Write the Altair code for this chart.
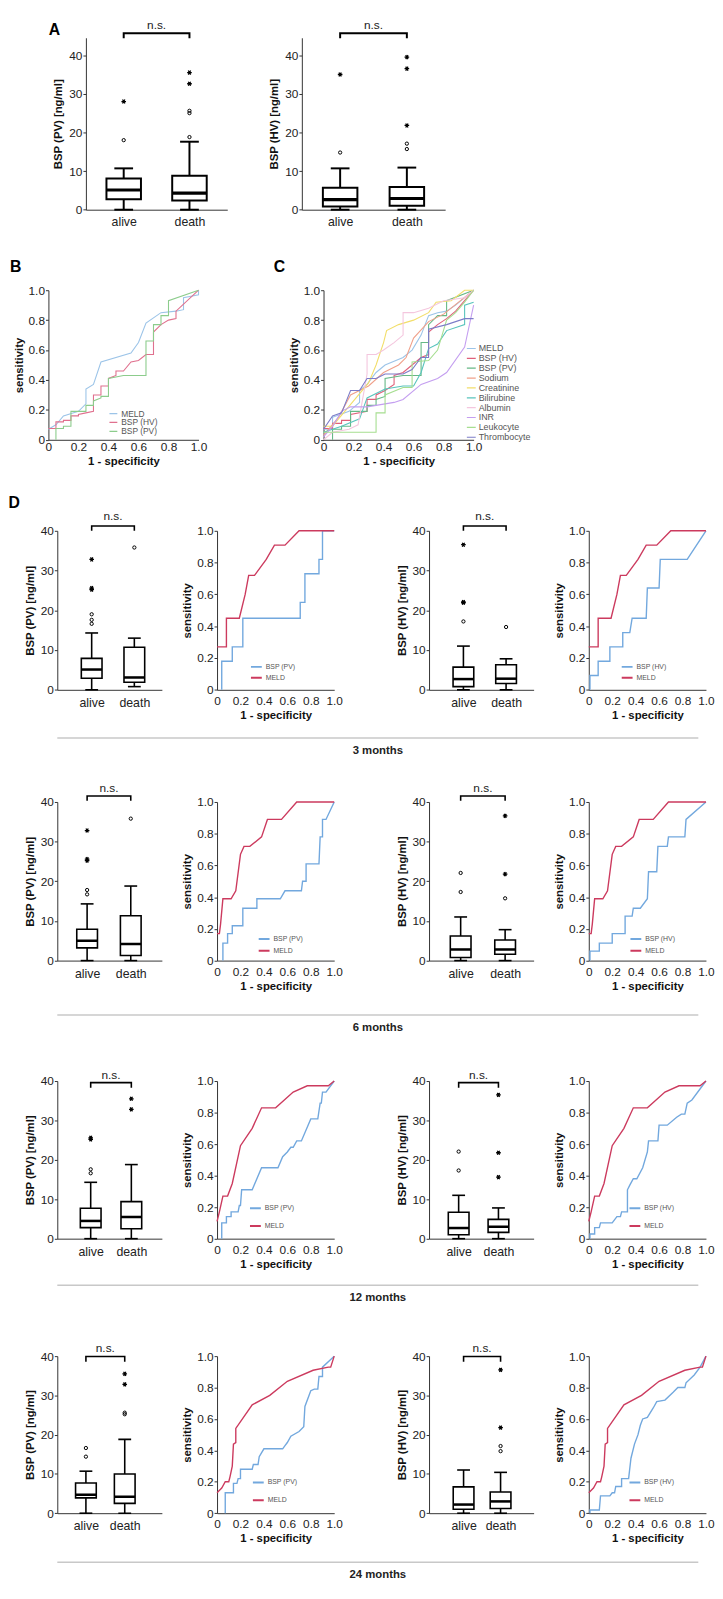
import altair as alt
import pandas as pd

FONT = "Liberation Sans"
SX = 0.982
SY = 0.985

groups = ["alive", "death"]
y_ticks = [0, 10, 20, 30, 40]
roc_ticks = [0, 0.2, 0.4, 0.6, 0.8, 1.0]
periods = ["3 months", "6 months", "12 months", "24 months"]
letters = ["A", "B", "C", "D"]

# ---------------- box statistics [min, q1, median, q3, max] ----------------
A_pv_stats = [[0, 2.7, 5.1, 8.1, 10.7], [0, 2.4, 4.3, 8.8, 17.6]]
A_pv_circ = [[18.0], [18.8, 25.0, 25.6]]
A_pv_star = [[28.0], [32.6, 35.5]]
A_hv_stats = [[0, 0.8, 2.6, 5.7, 10.7], [0, 1.0, 2.9, 5.9, 10.9]]
A_hv_circ = [[14.8], [15.7, 17.1]]
A_hv_star = [[35.0], [21.8, 36.5, 39.5]]

D_pv_stats = [
    [[0, 2.9, 5.1, 7.9, 14.3], [0.8, 1.9, 3.1, 10.7, 13.0]],
    [[0, 3.2, 5.0, 7.9, 14.3], [0, 1.3, 4.2, 11.3, 18.8]],
    [[0, 2.8, 4.5, 7.7, 14.3], [0, 2.5, 5.5, 9.4, 18.8]],
    [[0, 3.9, 4.7, 7.7, 10.7], [0, 2.5, 4.2, 10.0, 18.8]],
]
D_pv_circ = [
    [[16.6, 17.6, 19.0], [35.8]],
    [[16.7, 17.8], [35.8]],
    [[16.6, 17.6], []],
    [[14.4, 16.6], [25.2, 25.6]],
]
D_pv_star = [
    [[25.2, 25.6, 32.8], []],
    [[25.2, 25.6, 32.8], []],
    [[25.2, 25.6], [32.8, 35.5]],
    [[], [32.8, 35.5]],
]
D_hv_stats = [
    [[0, 0.8, 2.7, 5.7, 11.0], [0, 1.6, 2.8, 6.3, 7.8]],
    [[0, 0.8, 2.8, 6.2, 11.0], [0, 1.6, 2.8, 5.2, 7.8]],
    [[0, 1.0, 2.7, 6.7, 11.0], [0, 1.6, 3.0, 4.9, 7.8]],
    [[0, 1.0, 2.2, 6.7, 11.0], [0, 1.2, 3.0, 5.4, 10.4]],
]
D_hv_circ = [
    [[17.2], [15.8]],
    [[17.3, 22.1], [15.7]],
    [[17.3, 22.1], []],
    [[], [15.8, 17.1]],
]
D_hv_star = [
    [[21.9, 22.1, 36.5], []],
    [[], [21.8, 36.5]],
    [[], [15.6, 21.8, 36.5]],
    [[], [21.8, 36.5]],
]

# ---------------- ROC curves: panel B ----------------
B_names = ["MELD", "BSP (HV)", "BSP (PV)"]
B_colors = ["#9cc4e8", "#e0708e", "#8ccc8c"]
B_meld_x = [0, 0.05, 0.1, 0.2, 0.25, 0.25, 0.3, 0.35, 0.55, 0.6, 0.65, 0.75, 0.85, 0.9, 0.9, 1.0, 1.0]
B_meld_y = [0.07, 0.1, 0.16, 0.19, 0.24, 0.34, 0.37, 0.52, 0.58, 0.65, 0.78, 0.85, 0.86, 0.87, 0.95, 0.97, 1.0]
B_hv_x = [0, 0.05, 0.05, 0.1, 0.1, 0.15, 0.15, 0.2, 0.2, 0.25, 0.3, 0.3, 0.35, 0.35, 0.4, 0.4, 0.45, 0.45, 0.5,
          0.55, 0.6, 0.65, 0.7, 0.7, 0.75, 0.8, 0.85, 0.85, 1.0]
B_hv_y = [0.075, 0.075, 0.12, 0.12, 0.13, 0.13, 0.16, 0.16, 0.17, 0.18, 0.19, 0.3, 0.3, 0.36, 0.36, 0.41, 0.43,
          0.46, 0.46, 0.52, 0.53, 0.57, 0.57, 0.72, 0.77, 0.8, 0.81, 0.86, 1.0]
B_pv_x = [0.05, 0.05, 0.1, 0.1, 0.15, 0.15, 0.25, 0.25, 0.3, 0.3, 0.35, 0.35, 0.4, 0.4, 0.5, 0.65, 0.65, 0.7,
          0.7, 0.75, 0.75, 0.8, 0.8, 1.0]
B_pv_y = [0, 0.075, 0.075, 0.09, 0.09, 0.19, 0.19, 0.23, 0.23, 0.26, 0.28, 0.29, 0.29, 0.41, 0.43, 0.43, 0.66,
          0.66, 0.77, 0.77, 0.83, 0.83, 0.93, 1.0]

# ---------------- ROC curves: panel C ----------------
C_names = ["MELD", "BSP (HV)", "BSP (PV)", "Sodium", "Creatinine", "Bilirubine", "Albumin", "INR",
           "Leukocyte", "Thrombocyte"]
C_colors = ["#9cc4e8", "#e0607a", "#66b886", "#f0a08a", "#f2de6a", "#58c4bc", "#f4c6de", "#c49ef0",
            "#a6de90", "#7c7cc8"]
C_x = [
    [0, 0.06, 0.06, 0.17, 0.24, 0.24, 0.29, 0.35, 0.41, 0.53, 0.59, 0.65, 0.70, 0.76, 0.82, 0.88, 0.94, 1.0],
    [0, 0.06, 0.06, 0.12, 0.12, 0.18, 0.18, 0.29, 0.29, 0.35, 0.35, 0.41, 0.47, 0.47, 0.53, 0.59, 0.65, 0.70,
     0.70, 0.76, 0.82, 0.88, 1.0],
    [0.06, 0.06, 0.12, 0.12, 0.18, 0.18, 0.29, 0.29, 0.35, 0.35, 0.41, 0.41, 0.53, 0.65, 0.65, 0.70, 0.70,
     0.76, 0.82, 0.82, 1.0],
    [0, 0.1, 0.18, 0.3, 0.4, 0.5, 0.55, 0.6, 0.7, 0.8, 0.9, 1.0],
    [0, 0.06, 0.1, 0.2, 0.3, 0.35, 0.4, 0.42, 0.5, 0.6, 0.7, 0.75, 0.85, 0.94, 1.0],
    [0, 0.12, 0.24, 0.29, 0.35, 0.41, 0.53, 0.6, 0.65, 0.7, 0.76, 0.82, 0.94, 0.94, 1.0],
    [0, 0.06, 0.17, 0.23, 0.29, 0.29, 0.35, 0.4, 0.47, 0.53, 0.53, 0.6, 0.7, 0.8, 0.94, 1.0],
    [0, 0.06, 0.12, 0.18, 0.29, 0.35, 0.47, 0.53, 0.65, 0.76, 0.82, 0.94, 1.0],
    [0, 0.06, 0.35, 0.35, 0.41, 0.41, 0.53, 0.59, 0.59, 0.70, 0.76, 0.82, 0.88, 0.94, 1.0],
    [0, 0.06, 0.12, 0.18, 0.24, 0.29, 0.35, 0.41, 0.53, 0.59, 0.65, 0.70, 0.70, 0.82, 0.94, 1.0],
]
C_y = [
    [0.07, 0.07, 0.15, 0.19, 0.25, 0.33, 0.37, 0.45, 0.50, 0.55, 0.60, 0.70, 0.83, 0.85, 0.86, 0.90, 0.95, 1.0],
    [0.075, 0.075, 0.11, 0.11, 0.13, 0.13, 0.17, 0.19, 0.27, 0.27, 0.3, 0.33, 0.37, 0.43, 0.45, 0.5, 0.55, 0.57,
     0.72, 0.77, 0.81, 0.86, 1.0],
    [0, 0.07, 0.07, 0.09, 0.09, 0.19, 0.19, 0.23, 0.23, 0.27, 0.29, 0.41, 0.43, 0.43, 0.65, 0.65, 0.77, 0.83,
     0.83, 0.93, 1.0],
    [0.03, 0.15, 0.3, 0.36, 0.45, 0.5, 0.55, 0.68, 0.79, 0.84, 0.92, 1.0],
    [0.09, 0.09, 0.14, 0.26, 0.38, 0.5, 0.65, 0.73, 0.77, 0.8, 0.85, 0.92, 0.93, 1.0, 1.0],
    [0.05, 0.09, 0.14, 0.28, 0.31, 0.34, 0.36, 0.36, 0.45, 0.61, 0.64, 0.73, 0.77, 0.9, 0.92],
    [0, 0.05, 0.07, 0.1, 0.44, 0.57, 0.57, 0.6, 0.65, 0.7, 0.85, 0.85, 0.88, 0.93, 0.95, 1.0],
    [0.02, 0.09, 0.19, 0.22, 0.22, 0.23, 0.25, 0.27, 0.37, 0.41, 0.45, 0.62, 0.9],
    [0.05, 0.05, 0.05, 0.18, 0.18, 0.30, 0.35, 0.35, 0.52, 0.53, 0.6, 0.8, 0.85, 0.92, 1.0],
    [0.07, 0.16, 0.18, 0.33, 0.33, 0.41, 0.41, 0.44, 0.44, 0.47, 0.55, 0.55, 0.74, 0.77, 0.81, 0.81],
]

# ---------------- ROC curves: panel D (per period) ----------------
D_colors = ["#72a8de", "#cc3a5e"]
D_meld_x = [
    [0, 0.08, 0.08, 0.19, 0.24, 0.27, 0.32, 0.42, 0.49, 0.58, 0.70, 1.0],
    [0, 0.02, 0.03, 0.05, 0.12, 0.16, 0.20, 0.23, 0.28, 0.38, 0.43, 0.55, 0.68, 1.0],
    [0, 0.02, 0.05, 0.09, 0.13, 0.2, 0.3, 0.38, 0.5, 0.65, 0.77, 0.95, 1.0],
    [0, 0.04, 0.07, 0.1, 0.11, 0.13, 0.14, 0.16, 0.16, 0.3, 0.45, 0.6, 0.82, 0.95, 0.97, 1.0],
]
D_meld_y = [
    [0.27, 0.27, 0.45, 0.45, 0.60, 0.72, 0.72, 0.82, 0.91, 0.91, 1.0, 1.0],
    [0.17, 0.17, 0.23, 0.39, 0.39, 0.44, 0.67, 0.72, 0.72, 0.78, 0.89, 0.89, 1.0, 1.0],
    [0.11, 0.17, 0.27, 0.27, 0.35, 0.59, 0.7, 0.83, 0.83, 0.93, 0.97, 0.97, 1.0],
    [0.13, 0.16, 0.2, 0.2, 0.23, 0.3, 0.44, 0.45, 0.54, 0.69, 0.75, 0.84, 0.91, 0.93, 0.93, 1.0],
]
D_pv_x = [
    [0.04, 0.04, 0.13, 0.13, 0.22, 0.22, 0.71, 0.71, 0.75, 0.75, 0.87, 0.87, 0.9, 0.9, 1.0],
    [0.05, 0.05, 0.09, 0.09, 0.13, 0.13, 0.22, 0.22, 0.34, 0.34, 0.54, 0.58, 0.72, 0.73, 0.76, 0.76, 0.87,
     0.88, 0.90, 0.90, 0.93, 1.0],
    [0.04, 0.04, 0.08, 0.08, 0.12, 0.12, 0.18, 0.19, 0.2, 0.21, 0.3, 0.38, 0.52, 0.56, 0.6, 0.63, 0.65, 0.68,
     0.72, 0.8, 0.86, 0.88, 0.89, 0.9, 0.93, 1.0],
    [0.07, 0.07, 0.14, 0.14, 0.17, 0.18, 0.2, 0.2, 0.3, 0.31, 0.35, 0.36, 0.4, 0.56, 0.58, 0.6, 0.63, 0.7,
     0.74, 0.75, 0.8, 0.83, 0.86, 0.87, 0.9, 0.9, 1.0],
]
D_pv_y = [
    [0, 0.18, 0.18, 0.27, 0.27, 0.45, 0.45, 0.55, 0.55, 0.73, 0.73, 0.82, 0.82, 1.0, 1.0],
    [0, 0.11, 0.11, 0.17, 0.17, 0.22, 0.22, 0.33, 0.33, 0.39, 0.39, 0.44, 0.44, 0.5, 0.5, 0.61, 0.61, 0.78,
     0.78, 0.89, 0.89, 1.0],
    [0, 0.1, 0.1, 0.14, 0.14, 0.17, 0.17, 0.21, 0.21, 0.31, 0.31, 0.45, 0.45, 0.52, 0.55, 0.58, 0.58, 0.62,
     0.62, 0.76, 0.76, 0.86, 0.86, 0.93, 0.93, 1.0],
    [0, 0.13, 0.13, 0.19, 0.19, 0.22, 0.22, 0.28, 0.28, 0.31, 0.31, 0.36, 0.41, 0.41, 0.43, 0.45, 0.49, 0.52,
     0.55, 0.68, 0.78, 0.79, 0.79, 0.87, 0.87, 0.93, 1.0],
]
D_hv_x = [
    [0.01, 0.01, 0.08, 0.08, 0.18, 0.18, 0.29, 0.29, 0.35, 0.37, 0.49, 0.50, 0.60, 0.61, 0.84, 1.0],
    [0.01, 0.01, 0.09, 0.09, 0.2, 0.2, 0.31, 0.31, 0.37, 0.38, 0.44, 0.5, 0.51, 0.58, 0.59, 0.67, 0.68, 0.82,
     0.83, 1.0],
    [0.01, 0.01, 0.05, 0.05, 0.09, 0.1, 0.2, 0.24, 0.27, 0.28, 0.33, 0.33, 0.35, 0.38, 0.41, 0.46, 0.5, 0.51,
     0.59, 0.6, 0.67, 0.75, 0.79, 0.82, 0.84, 0.88, 1.0],
    [0.01, 0.01, 0.09, 0.1, 0.18, 0.2, 0.22, 0.23, 0.28, 0.28, 0.34, 0.36, 0.39, 0.42, 0.44, 0.46, 0.5, 0.55,
     0.58, 0.65, 0.72, 0.76, 0.82, 0.83, 0.9, 0.95, 1.0],
]
D_hv_y = [
    [0, 0.09, 0.09, 0.18, 0.18, 0.27, 0.27, 0.36, 0.36, 0.45, 0.45, 0.64, 0.64, 0.82, 0.82, 1.0],
    [0, 0.06, 0.06, 0.11, 0.11, 0.17, 0.17, 0.28, 0.28, 0.33, 0.33, 0.39, 0.56, 0.56, 0.72, 0.72, 0.78, 0.78,
     0.89, 1.0],
    [0, 0.03, 0.03, 0.07, 0.07, 0.1, 0.1, 0.14, 0.14, 0.17, 0.17, 0.31, 0.34, 0.38, 0.38, 0.45, 0.55, 0.62,
     0.62, 0.72, 0.72, 0.77, 0.79, 0.79, 0.86, 0.88, 1.0],
    [0, 0.02, 0.02, 0.11, 0.11, 0.13, 0.13, 0.17, 0.17, 0.22, 0.22, 0.35, 0.44, 0.5, 0.56, 0.6, 0.61, 0.67,
     0.71, 0.72, 0.77, 0.8, 0.8, 0.83, 0.88, 0.93, 1.0],
]

# ---------------- helpers ----------------
LBL = "datum.value == 0 ? '0' : format(datum.value, '.1f')"
GRP = "datum.value == 1 ? '%s' : '%s'" % (groups[0], groups[1])


def hc(*charts):
    return alt.hconcat(*charts, spacing=0, bounds="flush").resolve_scale(color="independent")


def spacer(w=1, h=1, letter=None, lx=0, ly=0):
    base = alt.Chart(pd.DataFrame({"s": [0], "t": [letter or ""]}))
    dot = base.mark_point(opacity=0, size=1).encode(x=alt.value(0), y=alt.value(0))
    if letter is None:
        return dot.properties(width=w, height=h)
    txt = base.mark_text(fontSize=16, fontWeight="bold", font=FONT, color="black", align="left",
                         baseline="alphabetic").encode(text="t:N", x=alt.value(lx), y=alt.value(ly))
    return alt.layer(dot, txt).properties(width=w, height=h)


def frame(w, h, top, bottom, letter=None, lx=0, ly=0):
    # invisible vertical rule fixing the row's extent above and below its plot areas
    base = alt.Chart(pd.DataFrame({"s": [0], "t": [letter or ""]}))
    rule = base.mark_rule(opacity=0, strokeWidth=1).encode(
        x=alt.value(0), y=alt.value(-top), y2=alt.value(h + bottom))
    if letter is None:
        return rule.properties(width=w, height=h)
    txt = base.mark_text(fontSize=16, fontWeight="bold", font=FONT, color="black", align="left",
                         baseline="alphabetic").encode(text="t:N", x=alt.value(lx), y=alt.value(ly))
    return alt.layer(rule, txt).properties(width=w, height=h)


def box_panel(stats, circ, star, ytitle, w, h, ydom, xdom, br, boxw, capw, lw, lab_pad):
    st = pd.DataFrame({"pos": [1, 2],
                       "lo": [stats[0][0], stats[1][0]], "q1": [stats[0][1], stats[1][1]],
                       "med": [stats[0][2], stats[1][2]], "q3": [stats[0][3], stats[1][3]],
                       "hi": [stats[0][4], stats[1][4]]})
    cdf = pd.DataFrame({"pos": [1] * len(circ[0]) + [2] * len(circ[1]), "val": circ[0] + circ[1]})
    sdf = pd.DataFrame({"pos": [1] * len(star[0]) + [2] * len(star[1]), "val": star[0] + star[1]})
    bdf = pd.DataFrame({"pos": [1, 1, 2, 2], "val": [br[1], br[0], br[0], br[1]], "k": [0, 1, 2, 3]})
    ndf = pd.DataFrame({"pos": [1.5], "val": [br[2]], "txt": ["n.s."]})
    xs = alt.Scale(domain=xdom, nice=False, zero=False)
    ys = alt.Scale(domain=ydom, nice=False, zero=False)
    xax = alt.Axis(values=[1, 2], labelExpr=GRP, title=None, tickSize=0, labelPadding=lab_pad,
                   labelFontSize=12.5, labelColor="#222")
    yax = alt.Axis(values=y_ticks, title=ytitle, tickSize=3, labelPadding=1, titlePadding=5,
                   labelOverlap=False)

    def X():
        return alt.X("pos:Q", scale=xs, axis=xax)

    def Y(f):
        return alt.Y(f + ":Q", scale=ys, axis=yax)

    base = alt.Chart(st)
    layers = [
        base.mark_rule(color="black", strokeWidth=lw).encode(x=X(), y=Y("lo"), y2="q1:Q"),
        base.mark_rule(color="black", strokeWidth=lw).encode(x=X(), y=Y("q3"), y2="hi:Q"),
        base.mark_tick(orient="horizontal", size=capw, thickness=lw, color="black", opacity=1)
            .encode(x=X(), y=Y("lo")),
        base.mark_tick(orient="horizontal", size=capw, thickness=lw, color="black", opacity=1)
            .encode(x=X(), y=Y("hi")),
        base.mark_bar(size=boxw, fill="white", stroke="black", strokeWidth=lw)
            .encode(x=X(), y=Y("q1"), y2="q3:Q"),
        base.mark_tick(orient="horizontal", size=boxw, thickness=lw * 1.6, color="black", opacity=1)
            .encode(x=X(), y=Y("med")),
        alt.Chart(cdf).mark_point(shape="circle", filled=False, size=11, strokeWidth=1, color="black",
                                  opacity=1).encode(x=X(), y=Y("val")),
        alt.Chart(sdf).mark_point(shape="M-1,0L1,0M-0.5,-0.87L0.5,0.87M-0.5,0.87L0.5,-0.87", filled=False,
                                  size=22, strokeWidth=1.3, color="black", opacity=1)
            .encode(x=X(), y=Y("val")),
        alt.Chart(bdf).mark_line(color="black", strokeWidth=lw).encode(x=X(), y=Y("val"), order="k:Q"),
        alt.Chart(ndf).mark_text(fontSize=12, font=FONT, color="#222", baseline="middle")
            .encode(x=X(), y=Y("val"), text="txt:N"),
    ]
    return alt.layer(*layers).properties(width=w, height=h)


def roc_panel(names, xs_list, ys_list, colors, w, h, sw, leg, xlab_pad):
    rows = []
    for name, xs, ys in zip(names, xs_list, ys_list):
        for i, (a, b) in enumerate(zip(xs, ys)):
            rows.append({"series": name, "k": i, "fpr": a, "tpr": b})
    df = pd.DataFrame(rows)
    ch = alt.Chart(df).mark_line(strokeWidth=sw).encode(
        x=alt.X("fpr:Q", scale=alt.Scale(domain=[0, 1], nice=False),
                axis=alt.Axis(values=roc_ticks, labelExpr=LBL, title="1 - specificity", tickSize=0,
                              labelPadding=xlab_pad, titlePadding=3, labelFlush=False, labelOverlap=False)),
        y=alt.Y("tpr:Q", scale=alt.Scale(domain=[0, 1], nice=False),
                axis=alt.Axis(values=roc_ticks, labelExpr=LBL, title="sensitivity", tickSize=3,
                              labelPadding=1, titlePadding=4, labelFlush=False, labelOverlap=False)),
        color=alt.Color("series:N", scale=alt.Scale(domain=names, range=colors),
                        legend=alt.Legend(title=None, orient="none", symbolType="stroke", padding=0,
                                          labelFont=FONT, labelColor="#555", **leg)),
        order="k:Q",
    )
    return ch.properties(width=w, height=h)


def sep_chart(label, w):
    df = pd.DataFrame({"label": [label]})
    rule = alt.Chart(df).mark_rule(color="#c8c8c8", strokeWidth=1.5).encode(
        x=alt.value(0), x2=alt.value(w), y=alt.value(0))
    txt = alt.Chart(df).mark_text(fontWeight="bold", fontSize=11.5, font=FONT, color="#222",
                                  baseline="middle").encode(
        text="label:N", x=alt.value(w / 2), y=alt.value(13.4 * SY))
    return alt.layer(rule, txt).properties(width=w, height=1)


rows = []

# ---------------- panels A ----------------
A_W1, A_W2, A_H = 146 * SX, 148 * SX, 177 * SY
boxA1 = box_panel(A_pv_stats, A_pv_circ, A_pv_star, "BSP (PV) [ng/ml]", A_W1, A_H, [0, 44.5], [0.5, 2.5],
                  (45.7, 44.4, 47.8), 35, 19, 2, 6)
boxA2 = box_panel(A_hv_stats, A_hv_circ, A_hv_star, "BSP (HV) [ng/ml]", A_W2, A_H, [0, 44.5], [0.5, 2.5],
                  (45.7, 44.4, 47.8), 35, 19, 2, 6)
rows.append(hc(frame(80 * SX, A_H, 19 * SY, 42 * SY, letters[0], 42 * SX, -3 * SY),
               boxA1, spacer(76 * SX), boxA2))

# ---------------- panels B, C ----------------
BC_W, BC_H = 155 * SX, 154 * SY
rocB = roc_panel(B_names, [B_meld_x, B_hv_x, B_pv_x], [B_meld_y, B_hv_y, B_pv_y], B_colors, BC_W, BC_H, 1.1,
                 dict(legendX=62 * SX, legendY=127 * SY - 4.25, symbolSize=64, symbolStrokeWidth=1.2,
                      labelFontSize=8.5, rowPadding=0, clipHeight=8.5, labelOffset=3), 2)
rocC = roc_panel(C_names, C_x, C_y, C_colors, BC_W, BC_H, 1.1,
                 dict(legendX=147 * SX, legendY=60 * SY - 4.6, symbolSize=81, symbolStrokeWidth=1.2,
                      labelFontSize=9, rowPadding=0, clipHeight=9.2, labelOffset=2), 2)
rows.append(hc(frame(41 * SX, BC_H, 40 * SY, 52.5 * SY, letters[1], 2 * SX, -19 * SY),
               rocB, spacer((324 - 196) * SX, 1, letters[2], 77 * SX, -19 * SY), rocC))

# ---------------- panel D rows ----------------
DB_W, DR_W = 108 * SX, 121 * SX
D_heights = [163.7, 163.3, 162.3, 161.7]
br_rows = [(41.2, 40.0, 43.8), (41.5, 40.3, 43.6), (39.6, 38.3, 41.4), (39.9, 38.6, 42.0)]
xdom_pv = [[0.31, 2.53], [0.43, 2.6], [0.3, 2.63], [0.39, 2.83]]
xdom_hv = [[0.31, 2.53], [0.4, 2.53], [0.38, 2.76], [0.2, 2.76]]
leg_rows = [(34, 33, 134.5, 0), (42, 42, 135.5, 1), (33, 41, 125.5, 7), (36, 41, 124.5, 7)]
row_top = [40, 40, 42.4, 47.3]       # space above each D row's plot areas
row_bottom = [43.7, 50, 42.7, 45]    # space below the plots, down to the separator's frame
SEP_TOP = 5
sep_bottom = [24, 24, 24, 19]         # space below each separator line

for r in range(4):
    D_H = D_heights[r] * SY
    lpx, lhx, ly, rp = leg_rows[r]
    legp = dict(legendX=lpx * SX, legendY=ly * SY, symbolSize=121, symbolStrokeWidth=2,
                labelFontSize=7, rowPadding=rp, clipHeight=11, labelOffset=3)
    legh = dict(legendX=lhx * SX, legendY=ly * SY, symbolSize=121, symbolStrokeWidth=2,
                labelFontSize=7, rowPadding=rp, clipHeight=11, labelOffset=3)
    bpv = box_panel(D_pv_stats[r], D_pv_circ[r], D_pv_star[r], "BSP (PV) [ng/ml]", DB_W, D_H, [0, 40],
                    xdom_pv[r], br_rows[r], 21, 13, 1.6, 7)
    rpv = roc_panel(["BSP (PV)", "MELD"], [D_pv_x[r], D_meld_x[r]], [D_pv_y[r], D_meld_y[r]], D_colors,
                    DR_W, D_H, 1.4, legp, 6)
    bhv = box_panel(D_hv_stats[r], D_hv_circ[r], D_hv_star[r], "BSP (HV) [ng/ml]", DB_W, D_H, [0, 40],
                    xdom_hv[r], br_rows[r], 21, 13, 1.6, 7)
    rhv = roc_panel(["BSP (HV)", "MELD"], [D_hv_x[r], D_meld_x[r]], [D_hv_y[r], D_meld_y[r]], D_colors,
                    DR_W, D_H, 1.4, legh, 6)
    if r == 0:
        fr = frame(50 * SX, D_H, row_top[r] * SY, row_bottom[r] * SY, letters[3], 0.5, -23.5 * SY)
    else:
        fr = frame(50 * SX, D_H, row_top[r] * SY, row_bottom[r] * SY)
    rows.append(hc(fr, bpv, spacer((213 - 158) * SX), rpv, spacer((431 - 334) * SX),
                   bhv, spacer((594 - 539) * SX), rhv))
    rows.append(hc(frame(50 * SX, 1, SEP_TOP * SY, sep_bottom[r] * SY),
                   sep_chart(periods[r], (712 - 50) * SX)))

chart = alt.vconcat(*rows, spacing=0, padding=0).resolve_scale(color="independent")
chart = (chart.configure(font=FONT)
         .configure_view(stroke=None)
         .configure_axis(domainColor="#333", tickColor="#333", labelColor="#222", titleColor="#111",
                         labelFont=FONT, titleFont=FONT, labelFontSize=12, titleFontSize=11.5,
                         titleFontWeight="bold", grid=False, domainWidth=1, tickWidth=1))

chart.save("out.html", embed_options={"renderer": "svg", "actions": False})
